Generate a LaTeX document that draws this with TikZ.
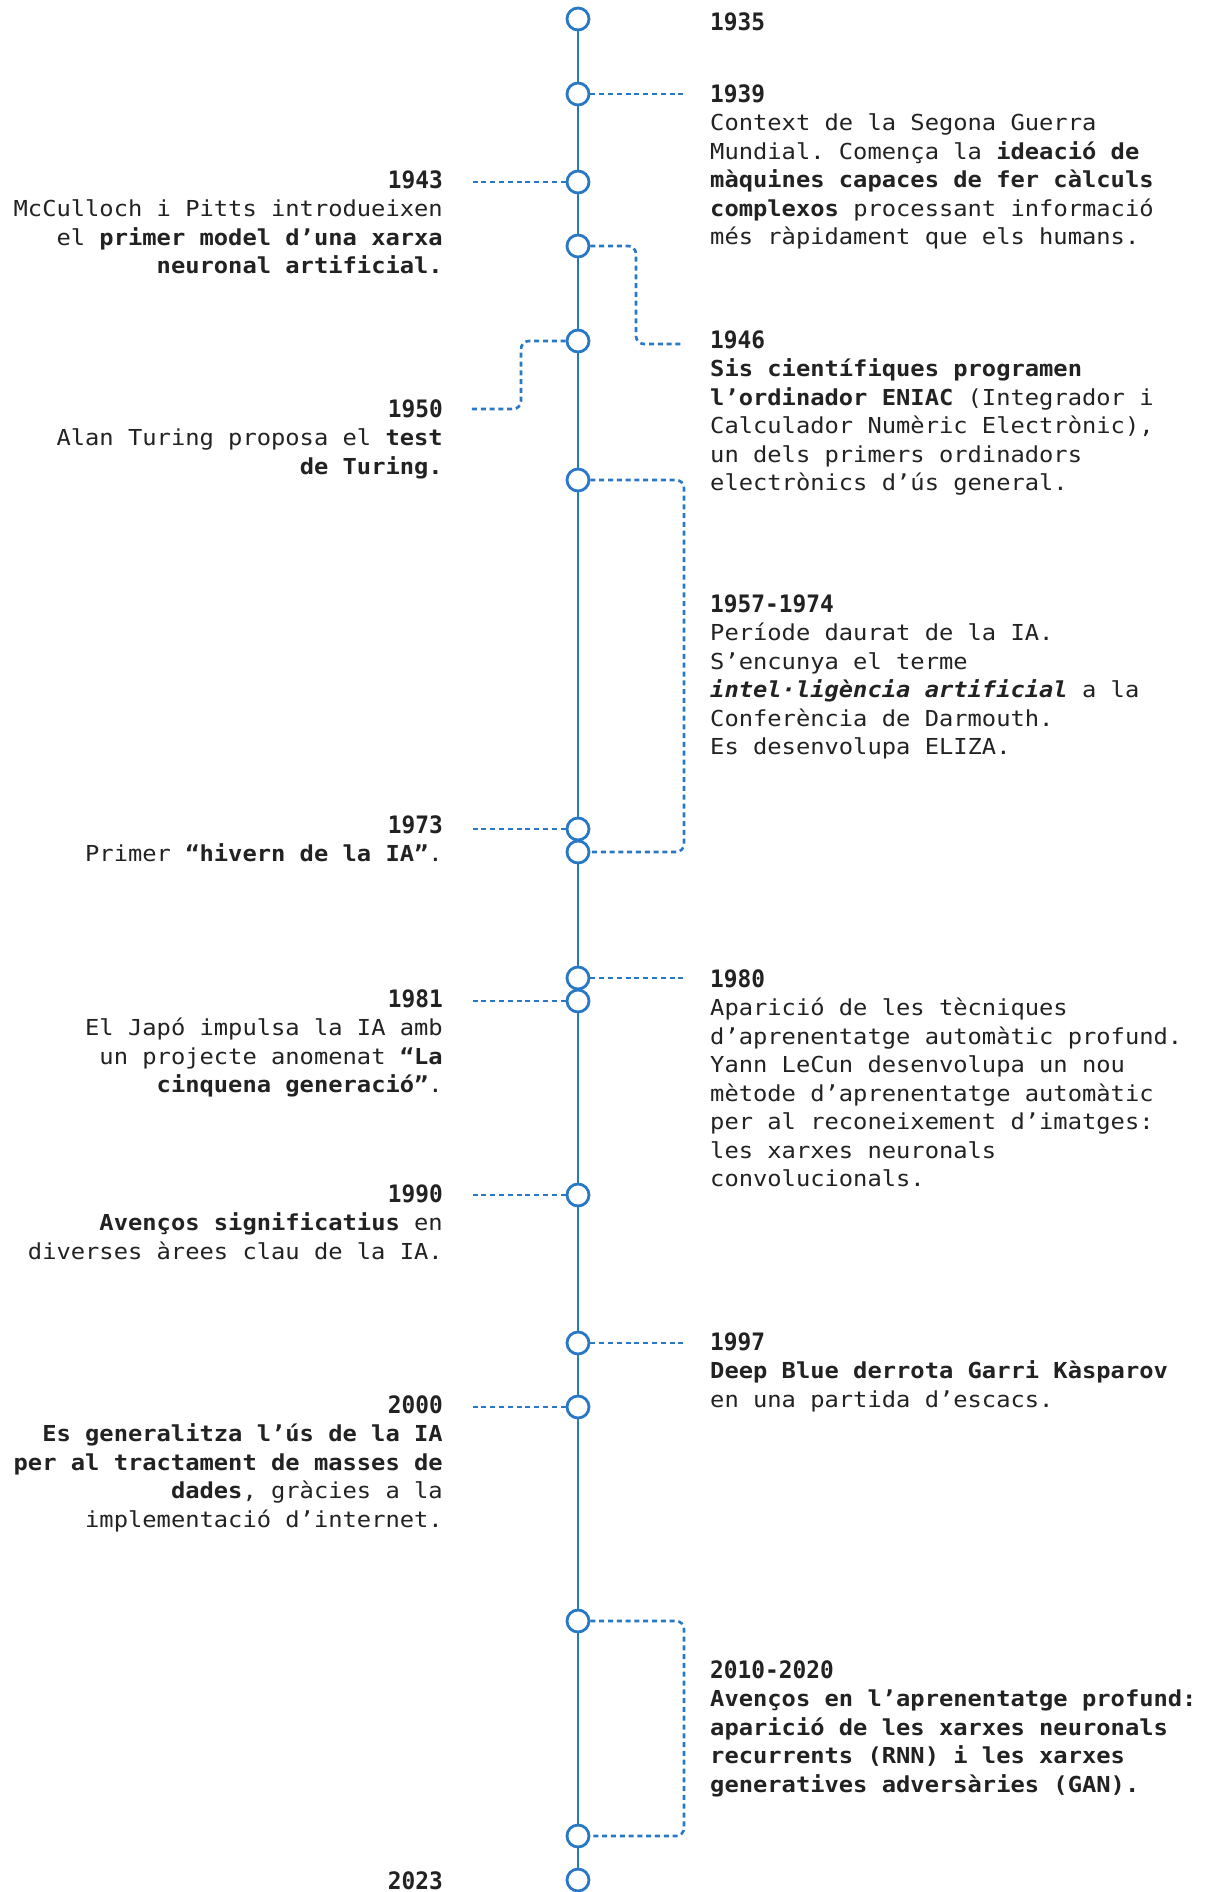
\documentclass[tikz,border=0pt]{standalone}
\usepackage{fontspec}
\newfontfamily\bodyfont{DejaVu Sans Mono}[FakeStretch=1.08]
\newfontfamily\yearfont{DejaVu Sans Mono}[FakeStretch=0.95]
\definecolor{tlblue}{RGB}{40,120,198}
\definecolor{ink}{RGB}{34,34,34}
\newcommand{\bodyf}{\bodyfont\fontsize{22}{28.5}\selectfont\frenchspacing}
\newcommand{\yr}[1]{{\yearfont\bfseries\fontsize{24}{28.5}\selectfont #1}}
\tikzset{
  dot/.style={circle, draw=tlblue, line width=2.8pt, fill=white, minimum size=22pt, inner sep=0pt},
  axisline/.style={draw=tlblue, line width=2.8pt},
  conn/.style={draw=tlblue, line width=2.6pt, dash pattern=on 5pt off 3.8pt, rounded corners=8pt},
  rtext/.style={anchor=base west, inner sep=0pt, align=left, font=\bodyf, text=ink},
  ltext/.style={anchor=base east, inner sep=0pt, align=right, font=\bodyf, text=ink},
}
\begin{document}
\begin{tikzpicture}[x=1pt, y=-1pt]
\fill[white] (0,0) rectangle (1207,1892);
\useasboundingbox (0,0) rectangle (1207,1892);

% timeline dots
\node[dot] (cA) at (578,19) {};
\node[dot] (cB) at (578,94) {};
\node[dot] (cC) at (578,182) {};
\node[dot] (cD) at (578,246) {};
\node[dot] (cE) at (578,341) {};
\node[dot] (cF) at (578,480) {};
\node[dot] (cG) at (578,829) {};
\node[dot] (cH) at (578,852) {};
\node[dot] (cI) at (578,978) {};
\node[dot] (cJ) at (578,1001) {};
\node[dot] (cK) at (578,1195) {};
\node[dot] (cL) at (578,1343) {};
\node[dot] (cM) at (578,1407) {};
\node[dot] (cN) at (578,1621) {};
\node[dot] (cO) at (578,1836) {};
\node[dot] (cP) at (578,1880) {};

\foreach \a/\b in {A/B,B/C,C/D,D/E,E/F,F/G,H/I,J/K,K/L,L/M,M/N,N/O,O/P}
  \draw[axisline] (c\a) -- (c\b);

% connector ends
\coordinate (eB) at (684,94);
\coordinate (eC) at (471,182);
\coordinate (kD) at (636,344);
\coordinate (eD) at (684,344);
\coordinate (kE) at (521,409);
\coordinate (eE) at (471,409);
\coordinate (kF) at (684,852);
\coordinate (eG) at (471,829);
\coordinate (eI) at (684,978);
\coordinate (eJ) at (471,1001);
\coordinate (eK) at (471,1195);
\coordinate (eL) at (684,1343);
\coordinate (eM) at (471,1407);
\coordinate (kN) at (684,1836);

\draw[conn] (cB) -- (eB);
\draw[conn] (cC) -- (eC);
\draw[conn] (cD) -| (kD) -- (eD);
\draw[conn] (cE) -| (kE) -- (eE);
\draw[conn] (cF) -| (kF) -- (cH);
\draw[conn] (cG) -- (eG);
\draw[conn] (cI) -- (eI);
\draw[conn] (cJ) -- (eJ);
\draw[conn] (cK) -- (eK);
\draw[conn] (cL) -- (eL);
\draw[conn] (cM) -- (eM);
\draw[conn] (cN) -| (kN) -- (cO);

% right column (node base = baseline of last line)
\node[rtext] (t1935) at (710,31) {\yr{1935}};
\node[rtext] (t1939) at (710,244.5) {\yr{1939}\\
Context de la Segona Guerra\\
Mundial. Comença la \textbf{ideació de}\\
\textbf{màquines capaces de fer càlculs}\\
\textbf{complexos} processant informació\\
més ràpidament que els humans.};
\node[rtext] (t1946) at (710,490.5) {\yr{1946}\\
\textbf{Sis científiques programen}\\
\textbf{l’ordinador ENIAC} (Integrador i\\
Calculador Numèric Electrònic),\\
un dels primers ordinadors\\
electrònics d’ús general.};
\node[rtext] (t1957) at (710,754.5) {\yr{1957-1974}\\
Període daurat de la IA.\\
S’encunya el terme\\
\textbf{\itshape intel·ligència artificial} a la\\
Conferència de Darmouth.\\
Es desenvolupa ELIZA.};
\node[rtext] (t1980) at (710,1186.5) {\yr{1980}\\
Aparició de les tècniques\\
d’aprenentatge automàtic profund.\\
Yann LeCun desenvolupa un nou\\
mètode d’aprenentatge automàtic\\
per al reconeixement d’imatges:\\
les xarxes neuronals\\
convolucionals.};
\node[rtext] (t1997) at (710,1407) {\yr{1997}\\
\textbf{Deep Blue derrota Garri Kàsparov}\\
en una partida d’escacs.};
\node[rtext] (t2010) at (710,1792) {\yr{2010-2020}\\
\textbf{Avenços en l’aprenentatge profund:}\\
\textbf{aparició de les xarxes neuronals}\\
\textbf{recurrents (RNN) i les xarxes}\\
\textbf{generatives adversàries (GAN).}};

% left column
\node[ltext] (t1943) at (443,273.5) {\yr{1943}\\
McCulloch i Pitts introdueixen\\
el \textbf{primer model d’una xarxa}\\
\textbf{neuronal artificial.}};
\node[ltext] (t1950) at (443,474) {\yr{1950}\\
Alan Turing proposa el \textbf{test}\\
\textbf{de Turing.}};
\node[ltext] (t1973) at (443,861.5) {\yr{1973}\\
Primer \textbf{“hivern de la IA”}.};
\node[ltext] (t1981) at (443,1092.5) {\yr{1981}\\
El Japó impulsa la IA amb\\
un projecte anomenat \textbf{“La}\\
\textbf{cinquena generació”}.};
\node[ltext] (t1990) at (443,1259) {\yr{1990}\\
\textbf{Avenços significatius} en\\
diverses àrees clau de la IA.};
\node[ltext] (t2000) at (443,1527) {\yr{2000}\\
\textbf{Es generalitza l’ús de la IA}\\
\textbf{per al tractament de masses de}\\
\textbf{dades}, gràcies a la\\
implementació d’internet.};
\node[ltext] (t2023) at (443,1889) {\yr{2023}};
\end{tikzpicture}
\end{document}
